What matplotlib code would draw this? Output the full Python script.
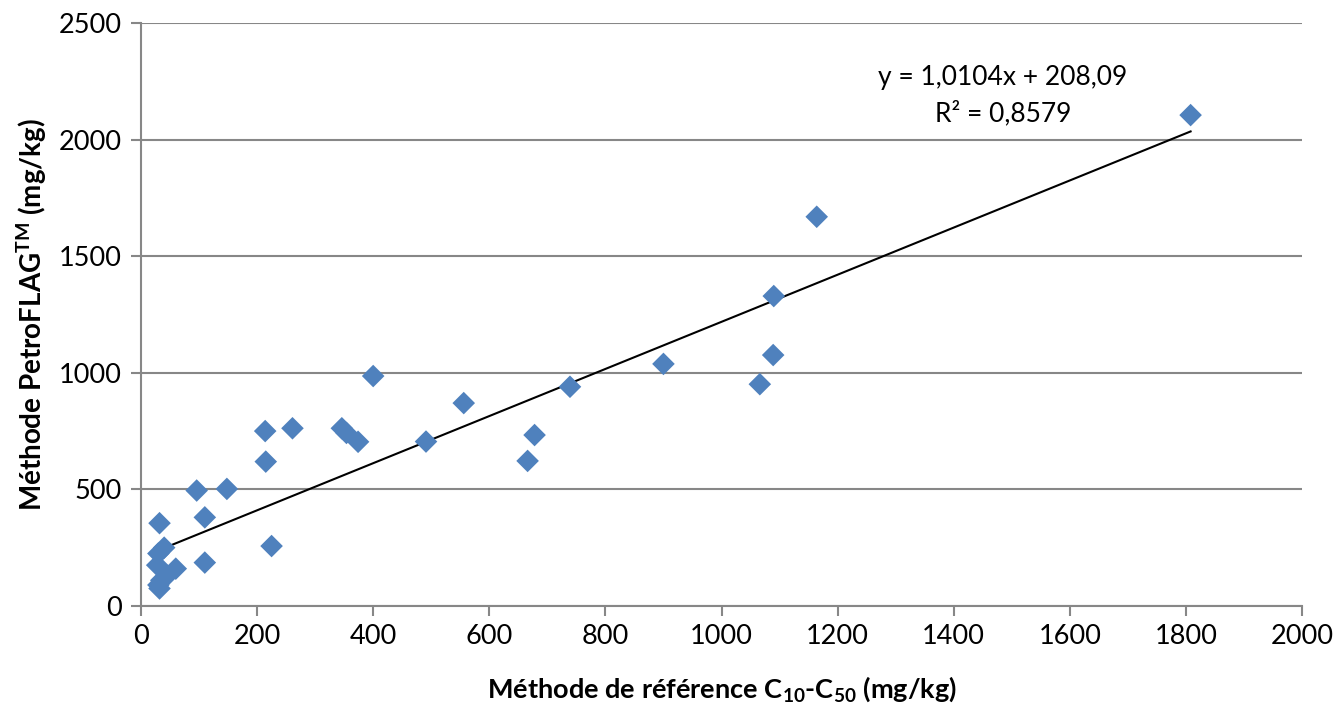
import matplotlib
matplotlib.use("Agg")
import matplotlib.pyplot as plt
import numpy as np

# valeurs (mg/kg)
methode_ref = [1808, 1164, 1090, 1089, 1066, 900, 739, 678, 666, 556, 491,
               400, 374, 354, 346, 261, 214, 215, 225, 148, 96, 110, 110,
               32, 40, 30, 28, 60, 45, 35, 30, 32]
petroflag = [2105, 1669, 1329, 1076, 951, 1038, 940, 733, 622, 870, 705,
             986, 704, 742, 762, 762, 750, 619, 257, 502, 495, 380, 186,
             355, 250, 225, 175, 160, 130, 110, 90, 75]

# courbe de tendance affichée
pente = 1.0104
ordonnee = 208.09
r2 = 0.8579

x_ticks = [0, 200, 400, 600, 800, 1000, 1200, 1400, 1600, 1800, 2000]
y_ticks = [0, 500, 1000, 1500, 2000, 2500]

plt.rcParams['font.family'] = ['Lato', 'DejaVu Sans']
plt.rcParams['mathtext.fontset'] = 'custom'
plt.rcParams['mathtext.rm'] = 'Lato'
plt.rcParams['mathtext.bf'] = 'Lato:bold'

fig = plt.figure(figsize=(13.36, 7.07), dpi=100)
ax = fig.add_axes([0.1055, 0.1429, 0.8691, 0.8246])

gris = '#878787'
ax.set_xlim(0, 2000)
ax.set_ylim(0, 2500)
ax.set_xticks(x_ticks)
ax.set_yticks(y_ticks)
ax.grid(True, axis='y', color=gris, linewidth=1.5)
ax.set_axisbelow(True)

for cote in ['top', 'right']:
    ax.spines[cote].set_visible(False)
for cote in ['left', 'bottom']:
    ax.spines[cote].set_color(gris)
    ax.spines[cote].set_linewidth(1.5)
ax.tick_params(axis='both', direction='out', length=7, width=1.5, color=gris,
               labelsize=19.5)
ax.tick_params(axis='y', pad=7)
ax.tick_params(axis='x', pad=6)

# tendance linéaire
xs = np.array([min(methode_ref), max(methode_ref)])
ax.plot(xs, pente * xs + ordonnee, color='black', linewidth=1.5, zorder=2)

ax.scatter(methode_ref, petroflag, marker='D', s=11.5 ** 2, color='#4F81BD',
           edgecolors='none', zorder=3)

eq = ("y = " + f"{pente:.4f}".replace('.', ',') + "x + "
      + f"{ordonnee:.2f}".replace('.', ','))
ax.text(1485, 2268, eq, ha='center', va='center', fontsize=19)
ax.text(1485, 2110, "R² = " + f"{r2:.4f}".replace('.', ','), ha='center',
        va='center', fontsize=19)

ax.set_xlabel(r"Méthode de référence C$_{\mathbf{10}}$-C$_{\mathbf{50}}$ (mg/kg)",
              fontsize=19.5, fontweight='bold', labelpad=18)
ax.set_ylabel(r"Méthode PetroFLAG$^{\mathbf{TM}}$ (mg/kg)",
              fontsize=20, fontweight='bold', labelpad=7)

fig.savefig("out.png", dpi=100)
